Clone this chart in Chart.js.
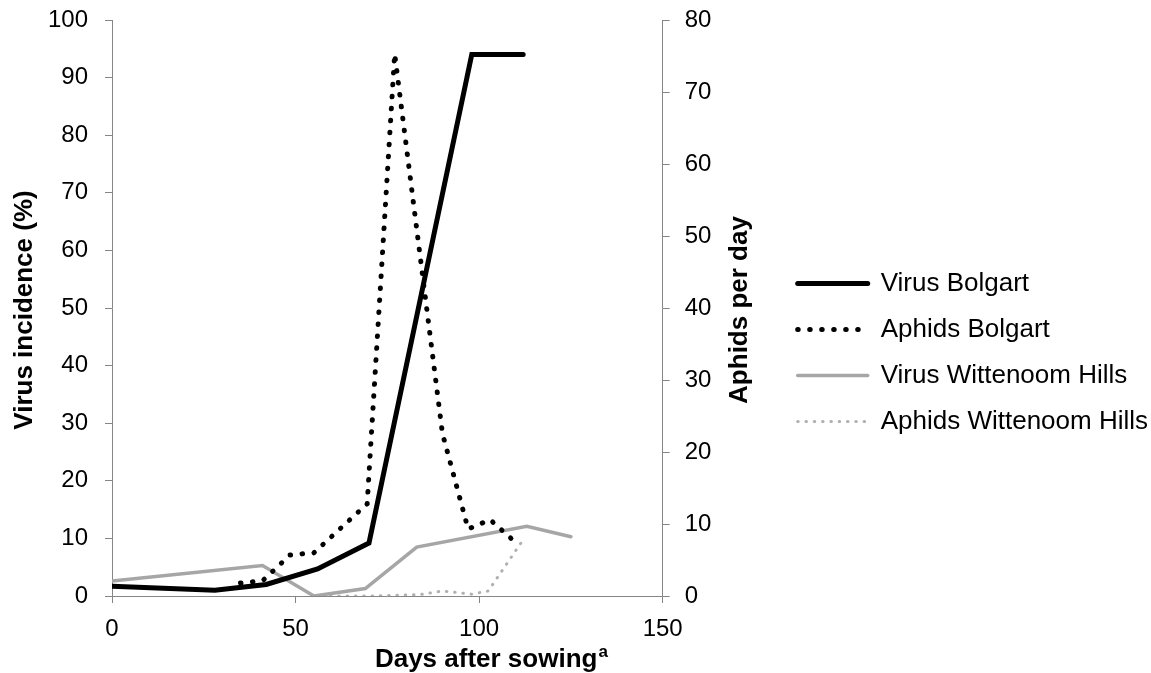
<!DOCTYPE html>
<html>
<head>
<meta charset="utf-8">
<script src="https://cdn.jsdelivr.net/npm/chart.js@4/dist/chart.umd.min.js"></script>
<style>
  html, body { margin: 0; padding: 0; background: #ffffff; }
  #wrap { width: 1151px; height: 673px; }
</style>
</head>
<body>
<div id="wrap"><canvas id="c" width="1151" height="673"></canvas></div>
<script>
// ---- data ----
const virusBolgartDays = [0, 28, 42, 56, 70, 98, 112];
const virusBolgart     = [1.7, 1.0, 2.0, 4.7, 9.2, 94, 94];

const aphidsBolgartDays = [35, 41, 48.5, 55, 69.5, 77, 90, 97, 103, 110];
const aphidsBolgart     = [1.8, 2.1, 5.7, 6.0, 12.8, 75.3, 22.6, 9.3, 10.6, 7.4];

const virusWittDays = [0, 41, 55, 69, 83, 113, 125];
const virusWitt     = [2.6, 5.3, 0, 1.3, 8.5, 12.1, 10.3];

const aphidsWittDays = [55, 70, 84, 90, 98, 102.5, 112.5];
const aphidsWitt     = [0, 0, 0.2, 0.7, 0.25, 0.7, 8.2];

const seriesNames = ['Virus Bolgart', 'Aphids Bolgart', 'Virus Wittenoom Hills', 'Aphids Wittenoom Hills'];
const xTicks = [0, 50, 100, 150];
const yLeftMax = 100, yRightMax = 80;
const xTitle = 'Days after sowing', xTitleSup = 'a';
const yLeftTitle = 'Virus incidence (%)';
const yRightTitle = 'Aphids per day';

const pts = (xs, ys) => xs.map((x, i) => ({ x: x, y: ys[i] }));

const FONT = "'Liberation Sans', Arial, sans-serif";
const AXIS = '#868686';

// let the right-hand legend take the width it needs
const legendWidthPlugin = {
  id: 'legendWidth',
  beforeLayout(chart) {
    const lg = chart.legend;
    if (lg && !lg._wPatched) {
      const orig = lg.fit;
      lg.fit = function () {
        const mw = this.maxWidth;
        this.maxWidth = 2000;
        orig.call(this);
        this.maxWidth = mw;
      };
      lg._wPatched = true;
    }
  }
};

const titlesPlugin = {
  id: 'axisTitles',
  afterDraw(chart) {
    const ctx = chart.ctx;
    const a = chart.chartArea;
    ctx.save();
    ctx.fillStyle = '#000';
    ctx.font = "bold 26px " + FONT;
    ctx.textAlign = 'center';
    ctx.textBaseline = 'middle';
    const midY = (a.top + a.bottom) / 2 + 2;
    ctx.save();
    ctx.translate(25, midY);
    ctx.rotate(-Math.PI / 2);
    ctx.fillText(yLeftTitle, 0, 0);
    ctx.restore();
    ctx.save();
    ctx.translate(a.right + 77, midY);
    ctx.rotate(-Math.PI / 2);
    ctx.fillText(yRightTitle, 0, 0);
    ctx.restore();
    ctx.font = "bold 26px " + FONT;
    const w1 = ctx.measureText(xTitle).width;
    ctx.font = "bold 17px " + FONT;
    const w2 = ctx.measureText(xTitleSup).width;
    const cx = a.left + (a.right - a.left) * 0.688;
    const start = cx - (w1 + w2) / 2;
    ctx.textAlign = 'left';
    ctx.textBaseline = 'alphabetic';
    ctx.font = "bold 26px " + FONT;
    ctx.fillText(xTitle, start, 667);
    ctx.font = "bold 17px " + FONT;
    ctx.fillText(xTitleSup, start + w1 + 1, 657);
    ctx.restore();
  }
};

const fixY = (w) => (s) => { s.width = w; s.paddingTop = 0; s.paddingBottom = 0; };

new Chart(document.getElementById('c'), {
  type: 'line',
  data: {
    datasets: [
      { label: seriesNames[0], data: pts(virusBolgartDays, virusBolgart), yAxisID: 'y',
        borderColor: '#000000', backgroundColor: '#000000', borderWidth: 5,
        borderCapStyle: 'round', borderJoinStyle: 'miter', pointRadius: 0, tension: 0 },
      { label: seriesNames[1], data: pts(aphidsBolgartDays, aphidsBolgart), yAxisID: 'y2',
        borderColor: '#000000', backgroundColor: '#000000', borderWidth: 5,
        borderDash: [0.5, 11.5], borderCapStyle: 'round', pointRadius: 0, tension: 0 },
      { label: seriesNames[2], data: pts(virusWittDays, virusWitt), yAxisID: 'y',
        borderColor: '#a6a6a6', backgroundColor: '#a6a6a6', borderWidth: 3.5,
        borderCapStyle: 'round', borderJoinStyle: 'miter', pointRadius: 0, tension: 0 },
      { label: seriesNames[3], data: pts(aphidsWittDays, aphidsWitt), yAxisID: 'y2',
        borderColor: '#b0b0b0', backgroundColor: '#b0b0b0', borderWidth: 3,
        borderDash: [0.5, 7.8], borderCapStyle: 'round', pointRadius: 0, tension: 0 }
    ]
  },
  options: {
    responsive: false,
    devicePixelRatio: 1,
    animation: false,
    layout: { padding: { top: 20, left: 0, right: -7, bottom: 0 } },
    plugins: {
      tooltip: { enabled: false },
      legend: {
        position: 'right',
        align: 'center',
        title: { display: true, text: ' ', font: { size: 1 }, padding: { top: 0, bottom: 10.8 } },
        labels: {
          usePointStyle: true,
          pointStyle: 'line',
          pointStyleWidth: 70,
          padding: 20,
          color: '#000',
          font: { family: FONT, size: 26 },
          generateLabels(chart) {
            const items = Chart.defaults.plugins.legend.labels.generateLabels(chart);
            items.forEach((it) => {
              const ds = chart.data.datasets[it.datasetIndex];
              it.lineDash = ds.borderDash || [];
              it.lineCap = ds.borderCapStyle || 'butt';
              it.lineWidth = ds.borderWidth;
              it.strokeStyle = ds.borderColor;
              it.pointStyle = 'line';
            });
            return items;
          }
        }
      }
    },
    scales: {
      x: {
        type: 'linear', min: 0, max: 150,
        afterBuildTicks: (s) => { s.ticks = xTicks.map(v => ({ value: v })); },
        afterFit: (s) => { s.height = 77; },
        border: { display: true, color: AXIS, width: 1 },
        grid: { display: true, drawOnChartArea: false, drawTicks: true, tickLength: 7, color: AXIS },
        ticks: { color: '#000', padding: 12, font: { family: FONT, size: 24 }, maxRotation: 0 }
      },
      y: {
        position: 'left', min: 0, max: yLeftMax,
        ticks: { stepSize: 10, color: '#000', padding: 17, font: { family: FONT, size: 24 } },
        afterFit: fixY(112),
        border: { display: true, color: AXIS, width: 1 },
        grid: { display: true, drawOnChartArea: false, drawTicks: true, tickLength: 7, color: AXIS }
      },
      y2: {
        position: 'right', min: 0, max: yRightMax,
        ticks: { stepSize: 10, color: '#000', padding: 15, font: { family: FONT, size: 24 } },
        afterFit: fixY(115),
        border: { display: true, color: AXIS, width: 1 },
        grid: { display: true, drawOnChartArea: false, drawTicks: true, tickLength: 7, color: AXIS }
      }
    }
  },
  plugins: [legendWidthPlugin, titlesPlugin]
});
</script>
</body>
</html>
